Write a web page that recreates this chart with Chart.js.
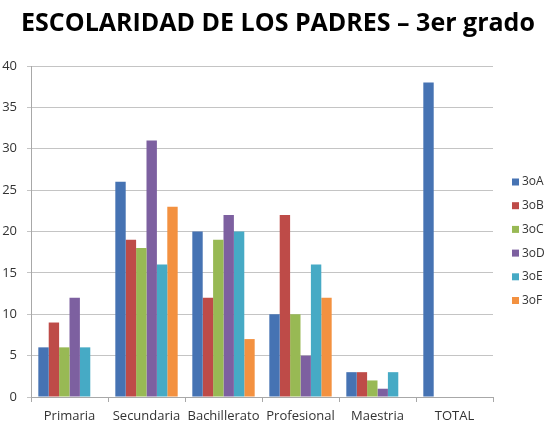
<!DOCTYPE html>
<html>
<head>
<meta charset="utf-8">
<script src="https://cdn.jsdelivr.net/npm/chart.js@4/dist/chart.umd.min.js"></script>
<style>
  html, body { margin: 0; padding: 0; background: #fff; overflow: hidden; }
  #wrap { width: 544px; height: 423px; }
</style>
</head>
<body>
<div id="wrap"><canvas id="escolaridadChart" width="544" height="423"></canvas></div>
<script>
const categories = ['Primaria', 'Secundaria', 'Bachillerato', 'Profesional', 'Maestria', 'TOTAL'];
const groups = ['3oA', '3oB', '3oC', '3oD', '3oE', '3oF'];

// valores (null = sin barra)
const grupoA = [6, 26, 20, 10, 3, 38];
const grupoB = [9, 19, 12, 22, 3, null];
const grupoC = [6, 18, 19, 10, 2, null];
const grupoD = [12, 31, 22, 5, 1, null];
const grupoE = [6, 16, 20, 16, 3, null];
const grupoF = [null, 23, 7, 12, null, null];

const yTicks = [0, 5, 10, 15, 20, 25, 30, 35, 40];

const colors = ['#4673B3', '#BE4B48', '#98B954', '#7D60A0', '#46AAC5', '#F39140'];

const series = [grupoA, grupoB, grupoC, grupoD, grupoE, grupoF];

// leyenda a la derecha, como en Excel
const sideLegend = {
    id: 'sideLegend',
    afterLayout(chart) {
        // el titulo va centrado sobre toda la diapositiva, no solo sobre el area del grafico
        chart.titleBlock.left = 0;
        chart.titleBlock.right = 556;
    },
    afterDraw(chart) {
        const ctx = chart.ctx;
        const x = 512;
        let y = 182;
        ctx.save();
        ctx.font = '12px "Open Sans"';
        ctx.textBaseline = 'middle';
        chart.data.datasets.forEach(ds => {
            ctx.fillStyle = ds.backgroundColor;
            ctx.fillRect(x, y - 3.5, 7, 7);
            ctx.fillStyle = '#333';
            ctx.fillText(ds.label, x + 10, y);
            y += 23.7;
        });
        ctx.restore();
    }
};

const ctx = document.getElementById('escolaridadChart').getContext('2d');
new Chart(ctx, {
    type: 'bar',
    data: {
        labels: categories,
        datasets: groups.map((g, i) => ({
            label: g,
            data: series[i],
            backgroundColor: colors[i],
            borderWidth: 0,
            categoryPercentage: 0.81,
            barPercentage: 1
        }))
    },
    options: {
        responsive: false,
        animation: false,
        layout: { padding: { top: 0, right: 51, bottom: 0, left: 0 } },
        plugins: {
            legend: { display: false },
            tooltip: { enabled: false },
            title: {
                display: true,
                text: 'ESCOLARIDAD DE LOS PADRES – 3er grado',
                color: '#000',
                font: { family: 'Open Sans', size: 25, weight: 'bold' },
                padding: { top: 9, bottom: 27 }
            }
        },
        scales: {
            x: {
                grid: { display: true, drawOnChartArea: false, drawTicks: true, tickLength: 5, offset: true, color: '#a8a8a8' },
                border: { display: true, color: '#a8a8a8' },
                ticks: { color: '#333', padding: 6, font: { family: 'Open Sans', size: 13 }, maxRotation: 0, autoSkip: false },
                afterFit: scale => { scale.height = 26; }
            },
            y: {
                min: 0,
                max: 40,
                afterBuildTicks: scale => { scale.ticks = yTicks.map(v => ({ value: v })); },
                grid: { color: '#c4c4c4', tickLength: 4 },
                border: { display: true, color: '#a8a8a8' },
                ticks: { color: '#333', padding: 10, font: { family: 'Open Sans', size: 13 } },
                afterFit: scale => { scale.width = 31; }
            }
        }
    },
    plugins: [sideLegend]
});
</script>
</body>
</html>
